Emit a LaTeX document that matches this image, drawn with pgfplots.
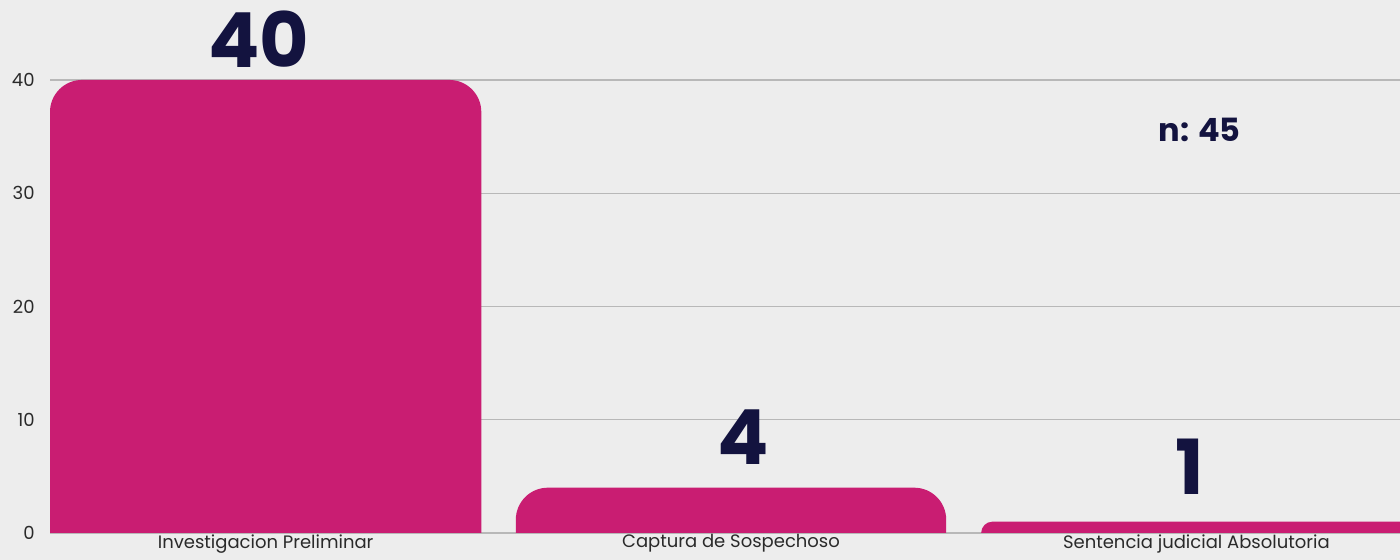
\documentclass[border=0pt]{standalone}
\usepackage{fontspec}
\setmainfont{Poppins}
\usepackage{pgfplots}
\pgfplotsset{compat=1.18}
\definecolor{bgc}{HTML}{EDEDED}
\definecolor{barc}{HTML}{C91D72}
\definecolor{navy}{HTML}{13133F}
\definecolor{gridc}{HTML}{B8B8B8}
\definecolor{tickc}{HTML}{2A2A2A}
\begin{document}
\begin{tikzpicture}
\fill[bgc] (-25pt,-13.5pt) rectangle (675pt,266.5pt);
\begin{axis}[at={(0,0)}, anchor=south west, scale only axis,
  width=675pt, height=266.5pt,
  xmin=-0.4634, xmax=2.4376, ymin=0, ymax=47.06,
  ytick={0,10,20,30,40}, xtick={0,1,2},
  xticklabels={Investigacion Preliminar, Captura de Sospechoso, Sentencia judicial Absolutoria},
  ymajorgrids, major grid style={gridc, line width=0.6pt},
  axis line style={draw=none}, major tick length=0pt,
  tick label style={font=\fontsize{9}{10}\selectfont, text=tickc},
  /pgf/number format/assume math mode=true,
  yticklabel style={anchor=east, inner sep=0pt, xshift=-7.5pt},
  xticklabel style={anchor=north, inner sep=0pt, yshift=-0.5pt},
  clip=true]
\addplot[fill=barc, draw=none, rounded corners=16pt] coordinates {(-0.4634,-15) (-0.4634,40) (0.4634,40) (0.4634,-15)} -- cycle;
\addplot[fill=barc, draw=none, rounded corners=16pt] coordinates {(0.5376,-15) (0.5376,4) (1.4624,4) (1.4624,-15)} -- cycle;
\addplot[fill=barc, draw=none, rounded corners=5.6pt] coordinates {(1.5376,-15) (1.5376,1) (2.4624,1) (2.4624,-15)} -- cycle;
\node[font=\fontsize{38}{40}\selectfont\bfseries, text=navy, anchor=south, inner sep=0pt] at (axis cs:-0.015,41.1) {40};
\node[font=\fontsize{38}{40}\selectfont\bfseries, text=navy, anchor=south, inner sep=0pt] at (axis cs:1.027,6.0) {4};
\node[font=\fontsize{38}{40}\selectfont\bfseries, text=navy, anchor=south, inner sep=0pt] at (axis cs:1.986,3.35) {1};
\node[font=\fontsize{16}{18}\selectfont\bfseries, text=navy, anchor=center, inner sep=0pt] at (axis cs:2.007,35.6) {n: 45};
\end{axis}
\pgfresetboundingbox
\path[use as bounding box] (-25pt,-13.5pt) rectangle (675pt,266.5pt);
\end{tikzpicture}
\end{document}
